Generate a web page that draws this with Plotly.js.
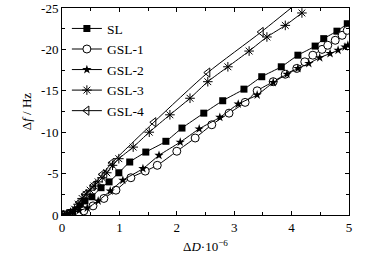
<!DOCTYPE html>
<html>
<head>
<meta charset="utf-8">
<script src="https://cdn.plot.ly/plotly-3.0.1.min.js"></script>
<style>html,body{margin:0;padding:0;background:#fff;}#chart{width:386px;height:260px;}</style>
</head>
<body>
<div id="chart"></div>
<script>
var seriesNames = ["SL", "GSL-1", "GSL-2", "GSL-3", "GSL-4"];

var slX = [0,0.08,0.16,0.24,0.32,0.40,0.52,0.68,0.82,0.99,1.18,1.46,1.81,2.09,2.47,2.80,3.17,3.48,3.82,4.11,4.41,4.56,4.79,4.97];
var slY = [0,-0.1,-0.3,-0.6,-1.1,-1.7,-2.2,-3.3,-4.0,-5.1,-6.4,-7.6,-8.9,-10.5,-12.3,-13.8,-15.2,-16.7,-17.9,-19.3,-20.4,-21.3,-22.2,-23.1];

var gsl1X = [0,0.1,0.2,0.3,0.38,0.54,0.73,0.94,1.20,1.45,1.66,2.0,2.32,2.61,2.91,3.19,3.40,3.68,3.89,4.09,4.23,4.37,4.53,4.63,4.76,4.88,4.97];
var gsl1Y = [0,-0.05,-0.15,-0.3,-0.5,-1.1,-2.0,-3.0,-4.5,-5.3,-6.0,-7.7,-9.3,-10.9,-12.3,-13.6,-15.0,-16.1,-17.0,-17.7,-18.5,-19.3,-20.0,-20.5,-21.1,-21.7,-22.3];

var gsl2X = [0,0.1,0.2,0.3,0.44,0.63,0.84,1.06,1.41,1.69,2.06,2.39,2.75,3.07,3.40,3.68,3.92,4.11,4.30,4.49,4.67,4.81,4.93,4.98];
var gsl2Y = [0,-0.1,-0.3,-0.55,-0.85,-1.7,-2.9,-4.2,-5.6,-7.2,-8.8,-10.4,-11.8,-13.4,-14.5,-16.0,-17.0,-17.7,-18.3,-19.0,-19.5,-19.9,-20.3,-20.5];

var gsl3X = [0,0.08,0.15,0.22,0.28,0.35,0.42,0.49,0.56,0.63,0.70,0.78,0.88,0.99,1.24,1.52,1.88,2.23,2.54,2.89,3.26,3.57,3.89,4.18];
var gsl3Y = [0,-0.1,-0.3,-0.7,-1.3,-2.0,-2.5,-3.0,-3.5,-4.0,-4.5,-5.1,-6.0,-6.8,-8.2,-10.0,-12.1,-14.1,-16.1,-17.9,-19.8,-21.5,-22.9,-24.4];

var gsl4X = [0,0.1,0.2,0.3,0.4,0.55,0.7,0.87,1.6,2.54,3.47,4.4];
var gsl4Y = [0,-0.1,-0.4,-1.5,-2.5,-3.6,-4.9,-6.3,-11.2,-17.2,-22.1,-27.3];

var xTickVals = [0,1,2,3,4,5];
var yTickVals = [0,-5,-10,-15,-20,-25];

var font = "Liberation Serif, Times New Roman, serif";
var line = {color:"#000", width:1, shape:"spline", smoothing:0.6};

function tr(i, x, y, marker) {
  return {x:x, y:y, name:seriesNames[i], mode:"lines+markers", type:"scatter",
          line:line, marker:marker, cliponaxis:true};
}

var traces = [
  tr(0, slX, slY, {symbol:"square", size:7, color:"#000"}),
  tr(1, gsl1X, gsl1Y, {symbol:"circle", size:8, color:"#fff", line:{color:"#000", width:1}}),
  tr(2, gsl2X, gsl2Y, {symbol:"star", size:7, color:"#000", line:{color:"#000", width:0}}),
  tr(3, gsl3X, gsl3Y, {symbol:"asterisk-open", size:8, color:"#000", line:{color:"#000", width:1}}),
  tr(4, gsl4X, gsl4Y, {symbol:"triangle-left-open", size:8, color:"#000", line:{color:"#000", width:1}})
];

var axisCommon = {
  showgrid:false, zeroline:false, showline:true, linecolor:"#000", linewidth:1,
  mirror:"ticks", ticks:"inside", ticklen:4, tickcolor:"#000", tickwidth:1,
  tickfont:{family:font, size:13, color:"#000"}
};

var layout = {
  width:386, height:260,
  margin:{l:62, r:37, t:8, b:45},
  paper_bgcolor:"#fff", plot_bgcolor:"#fff",
  font:{family:font, size:13, color:"#000"},
  showlegend:true,
  legend:{x:0.017, y:0.975, xanchor:"left", yanchor:"top", bgcolor:"rgba(0,0,0,0)",
          font:{family:font, size:13.5, color:"#000"}, itemwidth:30, tracegroupgap:0},
  xaxis: Object.assign({}, axisCommon, {
    range:[0,5], tickvals:xTickVals, ticktext:xTickVals.map(String),
    minor:{dtick:0.5, ticks:"inside", ticklen:3, tickcolor:"#000"},
    title:{text:"Δ<i>D</i>·10<sup>−6</sup>", font:{family:font, size:13, color:"#000"}, standoff:8}
  }),
  yaxis: Object.assign({}, axisCommon, {
    range:[0,-25], tickvals:yTickVals, ticktext:yTickVals.map(String),
    minor:{dtick:2.5, ticks:"inside", ticklen:3, tickcolor:"#000"},
    title:{text:"Δ<i>f</i> / Hz", font:{family:font, size:13, color:"#000"}, standoff:6}
  })
};

Plotly.newPlot("chart", traces, layout, {displayModeBar:false, staticPlot:true});
</script>
</body>
</html>
